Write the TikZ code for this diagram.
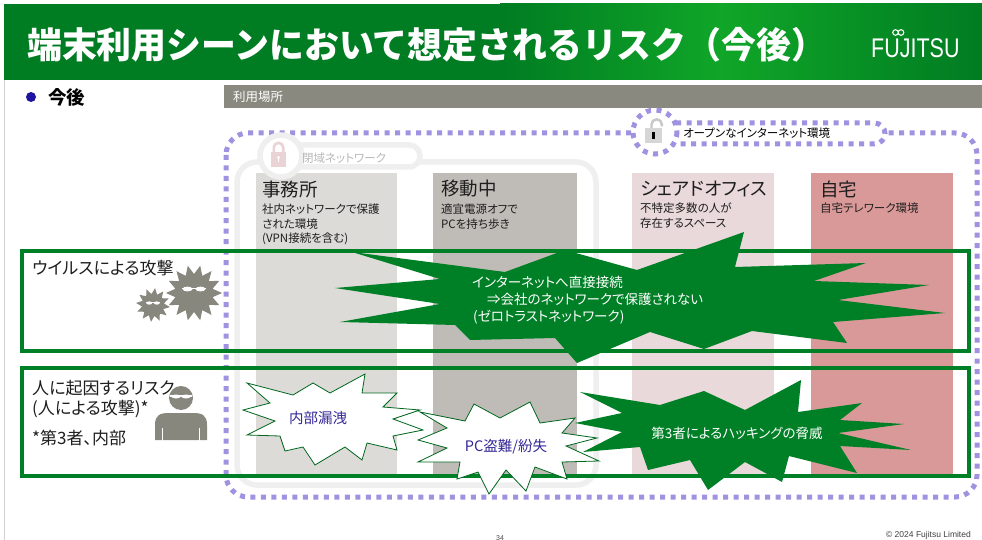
\documentclass[tikz,border=0pt]{standalone}
\usepackage{fontspec}
\setmainfont{Noto Sans CJK JP}[RawFeature=+palt]
\newfontfamily\jpfull{Noto Sans CJK JP}
\newfontfamily\logofont{Liberation Sans}
\usetikzlibrary{calc}

\definecolor{hdrdark}{RGB}{0,124,34}
\definecolor{hdrlight}{RGB}{16,166,40}
\definecolor{boxgreen}{RGB}{0,128,38}
\definecolor{dotlav}{RGB}{160,146,224}
\definecolor{netgray}{RGB}{239,239,239}
\definecolor{bargray}{RGB}{137,137,127}
\definecolor{colOffice}{RGB}{220,219,216}
\definecolor{colMove}{RGB}{191,187,182}
\definecolor{colShare}{RGB}{234,217,218}
\definecolor{colHome}{RGB}{218,153,153}
\definecolor{icongray}{RGB}{135,135,126}
\definecolor{riskink}{RGB}{52,40,150}
\definecolor{bulletblue}{RGB}{30,20,160}
\definecolor{lockpink}{RGB}{233,211,212}
\definecolor{textdark}{RGB}{30,30,30}

\tikzset{
  lbl/.style={anchor=west, inner sep=0pt, text=textdark},
  coltitle/.style={lbl, font=\fontsize{18.5}{20}\selectfont},
  colsub/.style={lbl, font=\fontsize{11.5}{13}\selectfont},
  risklbl/.style={lbl, font=\fontsize{17}{19}\selectfont},
  riskbox/.style={draw=boxgreen, line width=4pt},
  opennet/.style={draw=dotlav, line width=5pt, dash pattern=on 5pt off 5.5pt},
  closednet/.style={draw=netgray, line width=5.5pt},
  burstgreen/.style={fill=boxgreen},
  burstwhite/.style={fill=white, draw=boxgreen!80!black, line width=0.8pt},
  burstwhitetext/.style={inner sep=0pt, text=white, font=\fontsize{13.5}{16}\selectfont},
  burstinktext/.style={inner sep=0pt, text=riskink, font=\fontsize{14.5}{16}\selectfont},
}

\begin{document}
\begin{tikzpicture}[x=1pt,y=-1pt]
\useasboundingbox (0,0) rectangle (982,540);
\fill[white] (0,0) rectangle (982,540);

% header band
\fill[hdrdark] (4,4) rectangle (502,80);
\shade[left color=hdrdark, right color=hdrlight] (500,4) rectangle (722,80);
\shade[left color=hdrlight, right color=hdrdark] (720,4) rectangle (982,80);
\node[anchor=west, inner sep=0pt, text=white, font=\jpfull\bfseries\fontsize{34}{36}\selectfont, xscale=1.025, yscale=1.06]
  (title) at (27,45) {端末利用シーンにおいて想定されるリスク（今後）};
\node[anchor=west, inner sep=0pt, text=white, font=\logofont\fontsize{25}{26}\selectfont, xscale=0.86, yscale=1.08]
  (logo) at (871,48) {FUJITSU};
\draw[white, line width=1.1pt] (895.5,32.5) circle[radius=2.8] (901,32.5) circle[radius=2.8];

% page edge
\draw[black!18, line width=0.8pt] (4.5,80) -- (4.5,540);

% section heading
\fill[bulletblue] (31,97) circle[radius=5];
\node[lbl, text=black, font=\bfseries\fontsize{18.5}{20}\selectfont] (later) at (48,97) {今後};
\fill[bargray] (224,85) rectangle (982,108);
\node[lbl, text=white, font=\fontsize{12.5}{14}\selectfont] (place) at (233,97) {利用場所};

% open internet boundary
\draw[opennet, rounded corners=22pt] (226,133) rectangle (977,497);

% closed network boundary
\draw[closednet, rounded corners=20pt] (237,162) rectangle (596,485);

% location columns
\fill[colOffice] (256,173) rectangle (397,474);
\fill[colMove]   (433,173) rectangle (577,474);
\fill[colShare]  (632,173) rectangle (774,474);
\fill[colHome]   (811,173) rectangle (953,474);

% closed network tag with lock
\draw[closednet, fill=white, rounded corners=11pt] (281,145) rectangle (420,167);
\draw[closednet, fill=white] (281,156) circle[radius=21];
\draw[lockpink, line width=2.6pt] (273.8,152) -- (273.8,147.5) arc[start angle=180, end angle=360, radius=4.7] -- (283.2,152);
\fill[lockpink] (271,152) rectangle (286,167);
\fill[white] (278.5,157.5) circle[radius=1.6];
\fill[white] (277.8,157.5) rectangle (279.2,162);
\node[lbl, text=black!28, font=\fontsize{11.5}{13}\selectfont] (closedlbl) at (302,158) {閉域ネットワーク};

% open internet tag with lock
\draw[opennet, fill=white, rounded corners=10.5pt] (655,123) rectangle (885,144);
\draw[opennet, fill=white] (655,132) circle[radius=22];
\draw[black!22, line width=2.4pt] (651.5,128) -- (651.5,124.5) arc[start angle=180, end angle=360, radius=5.2] -- (661.9,126.5);
\fill[black!16] (645,128) rectangle (662,143);
\fill[black] (652,132) rectangle (655,139.5);
\node[lbl, text=black, font=\fontsize{11.5}{13}\selectfont] (openlbl) at (683,133) {オープンなインターネット環境};

% column headings
\node[coltitle] (office) at (262,189) {事務所};
\node[colsub] (office1) at (262,209) {社内ネットワークで保護};
\node[colsub] (office2) at (262,224) {された環境};
\node[colsub] (office3) at (262,239) {(VPN接続を含む)};
\node[coltitle] (move) at (441,189) {移動中};
\node[colsub] (move1) at (441,209) {適宜電源オフで};
\node[colsub] (move2) at (441,224) {PCを持ち歩き};
\node[coltitle] (share) at (640,189) {シェアドオフィス};
\node[colsub] (share1) at (640,208) {不特定多数の人が};
\node[colsub] (share2) at (640,223) {存在するスペース};
\node[coltitle] (home) at (820,189) {自宅};
\node[colsub] (home1) at (820,208) {自宅テレワーク環境};

% risk rows
\draw[riskbox] (22,251) rectangle (969,351);
\draw[riskbox] (22,368) rectangle (969,476);

% virus row
\node[risklbl] (virus) at (32,268) {ウイルスによる攻撃};
\fill[icongray] plot[domain=0:28, samples=29, variable=\k]
  ({194+(28-9*mod(\k,2))*cos(\k*360/28)}, {293+(28-9*mod(\k,2))*sin(\k*360/28)}) -- cycle;
\fill[icongray] plot[domain=0:24, samples=25, variable=\k]
  ({153+(17-6*mod(\k,2))*cos(\k*360/24+7)}, {305+(17-6*mod(\k,2))*sin(\k*360/24+7)}) -- cycle;
\fill[white] (182,287.5) rectangle (206,289.3);
\fill[white] (187.5,289) ellipse[x radius=5, y radius=2.4];
\fill[white] (200.5,289) ellipse[x radius=5, y radius=2.4];
\fill[white] (146,302) rectangle (160,303.2);
\fill[white] (149.2,303) ellipse[x radius=3, y radius=1.6];
\fill[white] (156.8,303) ellipse[x radius=3, y radius=1.6];

\path[burstgreen] (352,252) -- (505,272) -- (565,250) -- (637,270) -- (744,232) -- (735,267)
  -- (866,263) -- (814,281) -- (929,285) -- (838,300) -- (945,313) -- (833,322)
  -- (847,343) -- (752,331) -- (704,349) -- (650,332) -- (577,363) -- (555,338)
  -- (470,340) -- (455,325) -- (340,322) -- (440,304) -- (335,288) -- (440,279) -- cycle;
\node[burstwhitetext, anchor=west] (net1) at (472,282) {インターネットへ直接接続};
\node[burstwhitetext, anchor=west] (net2) at (487,299) {⇒会社のネットワークで保護されない};
\node[burstwhitetext, anchor=west] (net3) at (473,317) {(ゼロトラストネットワーク)};

% human risk row
\node[risklbl] (human1) at (32,388) {人に起因するリスク};
\node[risklbl] (human2) at (32,409) {(人による攻撃)*};
\node[risklbl] (human3) at (32,438) {*第3者、内部};
\fill[icongray] (181,398) circle[radius=12];
\fill[white] (170,394.5) rectangle (192,396.5);
\fill[white] (176,396.5) ellipse[x radius=4.5, y radius=2];
\fill[white] (186,396.5) ellipse[x radius=4.5, y radius=2];
\fill[icongray] (155,440) -- (155,425) .. controls (155,415) and (160,413) .. (169,413)
  -- (193,413) .. controls (202,413) and (207,415) .. (207,425) -- (207,440) -- cycle;
\draw[white, line width=1.6pt] (162.5,428) -- (162.5,441) (199.5,428) -- (199.5,441);

\path[burstgreen] (580,392) -- (660,405) -- (704,391) -- (745,410) -- (801,380) -- (798,412)
  -- (862,403) -- (840,420) -- (904,424) -- (838,433) -- (911,450) -- (840,446)
  -- (857,473) -- (789,456) -- (782,482) -- (745,462) -- (708,490) -- (690,460)
  -- (648,470) -- (640,447) -- (583,452) -- (622,432) -- (575,423) -- (622,413) -- cycle;
\node[burstwhitetext] (hack) at (737,433) {第3者によるハッキングの脅威};

\path[burstwhite] (247,383) -- (293,395) -- (313,383) -- (330,393) -- (365,374) -- (362,393)
  -- (397,393) -- (383,407) -- (420,410) -- (393,419) -- (423,430) -- (393,436)
  -- (397,450) -- (367,443) -- (362,460) -- (345,447) -- (315,465) -- (303,447)
  -- (285,451) -- (280,436) -- (247,435) -- (275,421) -- (243,410) -- (270,403) -- cycle;
\node[burstinktext] (leak) at (318,418) {内部漏洩};

\path[burstwhite] (420,412) -- (465,421) -- (474,404) -- (500,418) -- (530,402) -- (540,423)
  -- (575,418) -- (562,433) -- (597,438) -- (566,446) -- (599,461) -- (562,462)
  -- (567,479) -- (535,467) -- (526,491) -- (506,470) -- (489,494) -- (478,472)
  -- (457,479) -- (460,462) -- (418,462) -- (447,448) -- (418,440) -- (447,428) -- cycle;
\node[burstinktext] (theft) at (506,447) {PC盗難/紛失};

% footer
\node[inner sep=0pt, anchor=north, text=black!70, font=\logofont\fontsize{7}{8}\selectfont] (pageno) at (500,535) {34};
\node[inner sep=0pt, anchor=east, text=black!75, font=\logofont\fontsize{8.5}{10}\selectfont] (copy) at (971,535) {© 2024 Fujitsu Limited};
\end{tikzpicture}
\end{document}
